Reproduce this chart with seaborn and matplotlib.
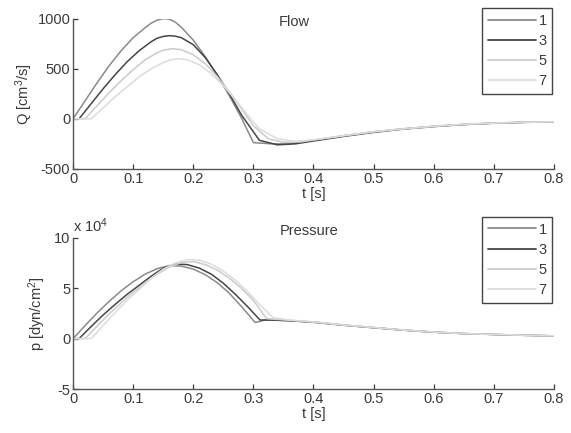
import matplotlib
matplotlib.use("Agg")
import matplotlib.pyplot as plt
import pandas as pd
import seaborn as sns

# flow, Q [cm^3/s], for four cases
labels = ["1", "3", "5", "7"]
colors = ["#8a8a8a", "#454545", "#cbcbcb", "#dcdcdc"]

flow_t1 = [0.00, 0.02, 0.04, 0.06, 0.08, 0.10, 0.12, 0.13, 0.14, 0.15, 0.16, 0.17, 0.18, 0.20,
           0.22, 0.24, 0.26, 0.28, 0.30, 0.33, 0.36, 0.40, 0.45, 0.50, 0.55, 0.60, 0.65, 0.70,
           0.75, 0.80]
flow_q1 = [0, 180, 360, 530, 680, 810, 910, 955, 985, 1000, 995, 965, 915, 785,
           620, 430, 230, 10, -238, -250, -250, -215, -170, -130, -100, -75, -56, -43,
           -35, -30]

flow_t3 = [0.00, 0.01, 0.03, 0.05, 0.07, 0.09, 0.11, 0.13, 0.14, 0.15, 0.16, 0.17, 0.18, 0.20,
           0.22, 0.24, 0.26, 0.28, 0.31, 0.34, 0.37, 0.40, 0.45, 0.50, 0.55, 0.60, 0.65, 0.70,
           0.75, 0.80]
flow_q3 = [0, 0, 150, 300, 440, 570, 680, 770, 805, 822, 830, 825, 810, 740,
           610, 440, 250, 40, -215, -260, -250, -222, -176, -136, -103, -78, -58, -44,
           -36, -31]

flow_t5 = [0.00, 0.02, 0.04, 0.06, 0.08, 0.10, 0.12, 0.14, 0.15, 0.165, 0.18, 0.20, 0.22, 0.24,
           0.26, 0.28, 0.30, 0.325, 0.35, 0.38, 0.40, 0.45, 0.50, 0.55, 0.60, 0.65, 0.70,
           0.75, 0.80]
flow_q5 = [0, 0, 130, 260, 380, 490, 590, 660, 685, 700, 690, 640, 550, 420,
           270, 100, -70, -200, -235, -230, -212, -168, -128, -99, -74, -55, -42,
           -34, -29]

flow_t7 = [0.00, 0.03, 0.05, 0.07, 0.09, 0.11, 0.13, 0.15, 0.16, 0.175, 0.19, 0.21, 0.23, 0.25,
           0.27, 0.29, 0.31, 0.34, 0.37, 0.40, 0.45, 0.50, 0.55, 0.60, 0.65, 0.70, 0.75, 0.80]
flow_q7 = [0, 0, 110, 220, 320, 420, 500, 560, 585, 600, 590, 540, 450, 330,
           190, 40, -100, -200, -225, -210, -170, -131, -101, -76, -56, -43, -35, -30]

# pressure, p [dyn/cm^2] in units of 10^4
pres_t1 = [0.00, 0.02, 0.04, 0.06, 0.08, 0.10, 0.12, 0.14, 0.16, 0.18, 0.20, 0.22, 0.24, 0.26,
           0.28, 0.303, 0.32, 0.35, 0.40, 0.45, 0.50, 0.55, 0.60, 0.65, 0.70, 0.75, 0.80]
pres_p1 = [0, 1.3, 2.55, 3.7, 4.75, 5.65, 6.4, 6.95, 7.25, 7.2, 6.9, 6.35, 5.55, 4.5,
           3.2, 1.6, 1.85, 1.8, 1.65, 1.35, 1.1, 0.85, 0.65, 0.5, 0.42, 0.33, 0.28]

pres_t3 = [0.00, 0.01, 0.03, 0.05, 0.07, 0.09, 0.11, 0.13, 0.15, 0.17, 0.19, 0.21, 0.23, 0.25,
           0.27, 0.29, 0.311, 0.33, 0.36, 0.40, 0.45, 0.50, 0.55, 0.60, 0.65, 0.70, 0.75, 0.80]
pres_p3 = [0, 0, 1.2, 2.35, 3.4, 4.4, 5.3, 6.2, 7.0, 7.4, 7.35, 7.0, 6.4, 5.5,
           4.4, 3.2, 1.85, 1.85, 1.78, 1.62, 1.33, 1.08, 0.84, 0.64, 0.5, 0.41, 0.33, 0.28]

pres_t5 = [0.00, 0.02, 0.04, 0.06, 0.08, 0.10, 0.12, 0.14, 0.16, 0.18, 0.20, 0.22, 0.24, 0.26,
           0.28, 0.30, 0.322, 0.35, 0.40, 0.45, 0.50, 0.55, 0.60, 0.65, 0.70, 0.75, 0.80]
pres_p5 = [0, 0, 1.25, 2.45, 3.55, 4.6, 5.55, 6.4, 7.1, 7.55, 7.65, 7.35, 6.8, 6.0,
           5.0, 3.8, 1.98, 1.86, 1.66, 1.36, 1.11, 0.86, 0.66, 0.51, 0.42, 0.34, 0.28]

pres_t7 = [0.00, 0.03, 0.05, 0.07, 0.09, 0.11, 0.13, 0.15, 0.17, 0.19, 0.21, 0.23, 0.25, 0.27,
           0.29, 0.31, 0.333, 0.36, 0.40, 0.45, 0.50, 0.55, 0.60, 0.65, 0.70, 0.75, 0.80]
pres_p7 = [0, 0, 1.3, 2.6, 3.8, 4.9, 6.0, 6.9, 7.5, 7.85, 7.8, 7.4, 6.7, 5.8,
           4.7, 3.4, 2.08, 1.85, 1.65, 1.35, 1.1, 0.85, 0.65, 0.5, 0.42, 0.33, 0.28]


def long_frame(ts, vs):
    parts = []
    for lab, t, v in zip(labels, ts, vs):
        parts.append(pd.DataFrame({"t": t, "v": v, "case": lab}))
    return pd.concat(parts, ignore_index=True)


flow = long_frame([flow_t1, flow_t3, flow_t5, flow_t7], [flow_q1, flow_q3, flow_q5, flow_q7])
pres = long_frame([pres_t1, pres_t3, pres_t5, pres_t7], [pres_p1, pres_p3, pres_p5, pres_p7])

sns.set_style("ticks")
plt.rcParams["font.family"] = ["Liberation Sans", "DejaVu Sans"]
txt = "#3a3a3a"
plt.rcParams.update({
    "font.size": 10.5,
    "text.color": txt,
    "axes.labelcolor": txt,
    "xtick.color": txt,
    "ytick.color": txt,
    "axes.edgecolor": "#555555",
    "xtick.direction": "in",
    "ytick.direction": "in",
    "mathtext.default": "regular",
    "axes.unicode_minus": False,
})

pal = dict(zip(labels, colors))

fig = plt.figure(figsize=(5.71, 4.33), dpi=100)
ax1 = fig.add_axes([0.128, 0.610, 0.842, 0.347])
ax2 = fig.add_axes([0.128, 0.1016, 0.842, 0.349])


def draw(ax, df, ylim, yticks, ylabel, title, title_x, title_y, leg_top, ypad):
    sns.lineplot(data=df, x="t", y="v", hue="case", palette=pal, sort=False,
                 estimator=None, linewidth=1.1, ax=ax)
    ax.set_xlim(0, 0.8)
    ax.set_ylim(*ylim)
    ax.set_xticks([0, 0.1, 0.2, 0.3, 0.4, 0.5, 0.6, 0.7, 0.8])
    ax.set_xticklabels(["0", "0.1", "0.2", "0.3", "0.4", "0.5", "0.6", "0.7", "0.8"])
    ax.set_yticks(yticks)
    ax.tick_params(length=3.5, width=0.9, labelsize=10.5, pad=2)
    sns.despine(ax=ax)
    for s in ["left", "bottom"]:
        ax.spines[s].set_linewidth(1.0)
    ax.set_xlabel("t [s]", labelpad=1)
    ax.set_ylabel(ylabel, labelpad=ypad)
    ax.text(title_x, title_y, title, transform=ax.transAxes, ha="center", va="center",
            fontsize=10.5)
    handles, labs = ax.get_legend_handles_labels()
    leg = ax.legend(handles, labs, loc="upper right", bbox_to_anchor=(0.997, leg_top),
                    borderaxespad=0, frameon=True, fancybox=False, framealpha=1,
                    handlelength=3.3, handletextpad=0.15, labelspacing=0.42,
                    borderpad=0.4, fontsize=10.5)
    leg.get_frame().set_edgecolor("#444444")
    leg.get_frame().set_linewidth(1.0)
    for line in leg.get_lines():
        line.set_linewidth(1.3)


draw(ax1, flow, (-500, 1000), [-500, 0, 500, 1000], "Q [cm$^3$/s]", "Flow",
     0.46, 0.975, 1.072, 2)
draw(ax2, pres, (-5, 10), [-5, 0, 5, 10], "p [dyn/cm$^2$]", "Pressure",
     0.49, 1.045, 1.14, 4)
ax2.text(0.0, 1.02, "x 10$^4$", transform=ax2.transAxes, ha="left", va="bottom",
         fontsize=10.5)

fig.savefig("out.png", dpi=100)
